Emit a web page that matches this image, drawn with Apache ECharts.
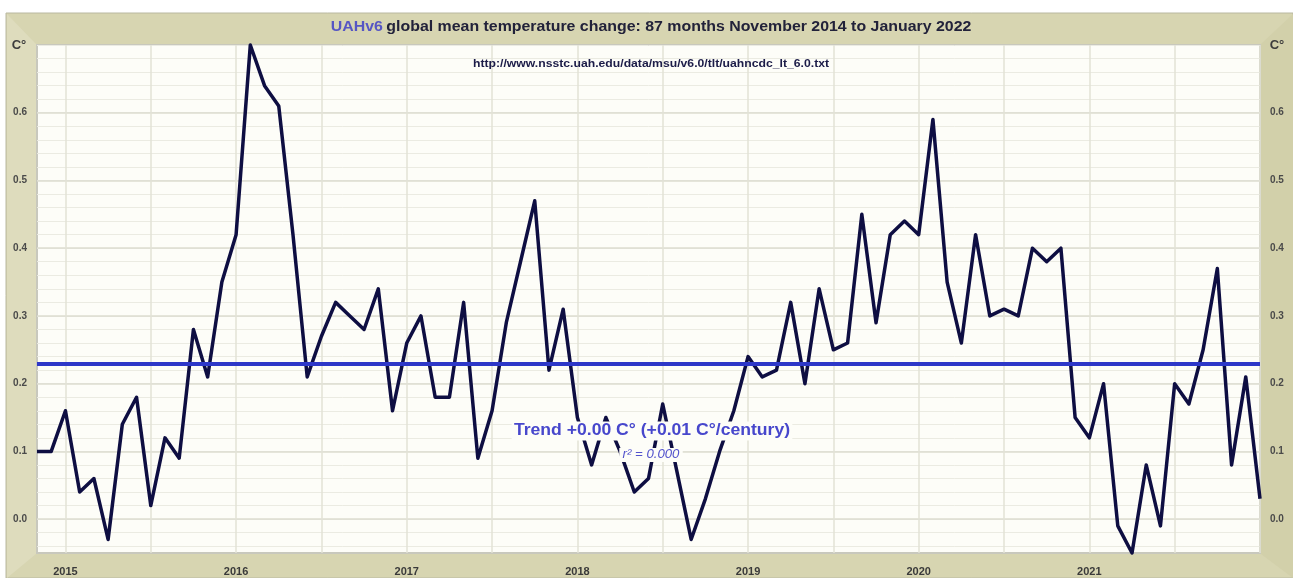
<!DOCTYPE html>
<html>
<head>
<meta charset="utf-8">
<script src="https://cdn.jsdelivr.net/npm/echarts@6/dist/echarts.min.js"></script>
<style>
  html, body { margin: 0; padding: 0; background: #ffffff; }
  #chart { width: 1293px; height: 578px; }
</style>
</head>
<body>
<div id="chart"></div>
<script>
// UAH v6 lower-troposphere global anomalies, one value per month, Nov 2014 .. Jan 2022
const startYear = 2014;
const startMonth = 11;
const anomalies = [
  0.10, 0.10,                                                             // 2014 Nov-Dec
  0.16, 0.04, 0.06, -0.03, 0.14, 0.18, 0.02, 0.12, 0.09, 0.28, 0.21, 0.35, // 2015
  0.42, 0.70, 0.64, 0.61, 0.42, 0.21, 0.27, 0.32, 0.30, 0.28, 0.34, 0.16, // 2016
  0.26, 0.30, 0.18, 0.18, 0.32, 0.09, 0.16, 0.29, 0.38, 0.47, 0.22, 0.31, // 2017
  0.15, 0.08, 0.15, 0.10, 0.04, 0.06, 0.17, 0.07, -0.03, 0.03, 0.10, 0.16, // 2018
  0.24, 0.21, 0.22, 0.32, 0.20, 0.34, 0.25, 0.26, 0.45, 0.29, 0.42, 0.44, // 2019
  0.42, 0.59, 0.35, 0.26, 0.42, 0.30, 0.31, 0.30, 0.40, 0.38, 0.40, 0.15, // 2020
  0.12, 0.20, -0.01, -0.05, 0.08, -0.01, 0.20, 0.17, 0.25, 0.37, 0.08, 0.21, // 2021
  0.03                                                                    // 2022 Jan
];
// least-squares level over the period (slope is ~0)
const trendLevel = 0.232;
const yTickValues = [0.0, 0.1, 0.2, 0.3, 0.4, 0.5, 0.6];
const titleLead = 'UAHv6';
const titleRest = 'global mean temperature change: 87 months November 2014 to January 2022';
const sourceUrl = 'http://www.nsstc.uah.edu/data/msu/v6.0/tlt/uahncdc_lt_6.0.txt';
const trendText = 'Trend +0.00 C\u00b0 (+0.01 C\u00b0/century)';
const r2Text = 'r\u00b2 = 0.000';
const unitText = 'C\u00b0';

// month category labels "YYYY-MM"
const months = anomalies.map((_, i) => {
  const m0 = startMonth - 1 + i;
  const y = startYear + Math.floor(m0 / 12);
  const m = (m0 % 12) + 1;
  return y + '-' + (m < 10 ? '0' + m : m);
});

// faint 0.02-step grid rows inside the y range
const minorRows = [];
for (let k = -2; k <= 35; k++) minorRows.push(+(k * 0.02).toFixed(2));

const FONT = '"Liberation Sans", Arial, sans-serif';
const chart = echarts.init(document.getElementById('chart'), null, { renderer: 'canvas' });

chart.setOption({
  animation: false,
  backgroundColor: '#ffffff',
  textStyle: { fontFamily: FONT },
  grid: {
    left: 37, right: 33, top: 45, bottom: 25,
    show: true,
    backgroundColor: '#fdfdf8',
    borderColor: '#c8c8bd',
    borderWidth: 2
  },
  xAxis: {
    type: 'category',
    data: months,
    boundaryGap: false,
    axisLine: { show: false },
    axisTick: { show: false },
    axisLabel: {
      interval: (idx) => (idx - 2) % 12 === 0 && idx < months.length - 1,
      formatter: (v) => v.slice(0, 4),
      margin: 13,
      fontFamily: FONT,
      fontSize: 11,
      fontWeight: 'bold',
      color: '#3a3a3a'
    },
    splitLine: {
      show: true,
      interval: (idx) => (idx - 2) % 6 === 0,
      lineStyle: { color: '#e2e2d6', width: 1.5 }
    }
  },
  yAxis: [
    {
      type: 'value',
      position: 'left',
      min: -0.05,
      max: 0.70,
      axisLine: { show: false },
      axisTick: { show: false, customValues: minorRows },
      axisLabel: {
        customValues: yTickValues,
        formatter: (v) => v.toFixed(1),
        margin: 10,
        fontFamily: FONT,
        fontSize: 10,
        fontWeight: 'bold',
        color: '#4a4a4a'
      },
      splitLine: { show: true, lineStyle: { color: '#ebebe2', width: 1 } }
    },
    {
      type: 'value',
      position: 'right',
      min: -0.05,
      max: 0.70,
      axisLine: { show: false },
      axisTick: { show: false, customValues: yTickValues },
      axisLabel: {
        customValues: yTickValues,
        formatter: (v) => v.toFixed(1),
        margin: 10,
        fontFamily: FONT,
        fontSize: 10,
        fontWeight: 'bold',
        color: '#4a4a4a'
      },
      splitLine: { show: true, lineStyle: { color: '#dcdcd0', width: 1.5 } }
    }
  ],
  series: [
    {
      name: 'trend',
      type: 'line',
      data: [],
      z: 2,
      markLine: {
        silent: true,
        symbol: ['none', 'none'],
        label: { show: false },
        lineStyle: { color: '#2d37c8', width: 4, type: 'solid' },
        data: [{ yAxis: trendLevel }]
      }
    },
    {
      name: 'anomaly',
      type: 'line',
      data: anomalies,
      symbol: 'none',
      clip: false,
      z: 3,
      lineStyle: { color: '#0e0e42', width: 3.5, join: 'round' }
    }
  ],
  graphic: [
    {
      type: 'rect',
      z: -100,
      shape: { x: 6, y: 13, width: 1287, height: 565 },
      style: { fill: '#d7d5b1', stroke: '#b9b8a0', lineWidth: 1 }
    },
    {
      type: 'polygon',
      z: -99,
      shape: { points: [[7, 14], [36, 44], [36, 554], [7, 578]] },
      style: { fill: '#dedcbd' }
    },
    {
      type: 'polygon',
      z: -99,
      shape: { points: [[1293, 14], [1261, 44], [1261, 554], [1293, 578]] },
      style: { fill: '#d2d0aa' }
    },
    // title: lead word in blue, remainder dark
    {
      type: 'text',
      z: 50,
      x: 651, y: 27,
      scaleX: 1.06,
      style: {
        text: '{a|' + titleLead + '} {b|' + titleRest + '}',
        align: 'center', verticalAlign: 'middle',
        rich: {
          a: { fontFamily: FONT, fontSize: 15, fontWeight: 'bold', fill: '#5656c4', color: '#5656c4' },
          b: { fontFamily: FONT, fontSize: 15, fontWeight: 'bold', fill: '#22223a', color: '#22223a' }
        }
      }
    },
    {
      type: 'text',
      z: 50,
      x: 651, y: 64,
      scaleX: 1.22,
      style: {
        text: sourceUrl, align: 'center', verticalAlign: 'middle',
        fontFamily: FONT, fontSize: 10, fontWeight: 'bold', fill: '#1c1c48'
      }
    },
    {
      type: 'text',
      z: 50,
      x: 19, y: 45,
      style: {
        text: unitText, align: 'center', verticalAlign: 'middle',
        fontFamily: FONT, fontSize: 13, fontWeight: 'bold', fill: '#3c3c3c'
      }
    },
    {
      type: 'text',
      z: 50,
      x: 1277, y: 45,
      style: {
        text: unitText, align: 'center', verticalAlign: 'middle',
        fontFamily: FONT, fontSize: 13, fontWeight: 'bold', fill: '#3c3c3c'
      }
    },
    {
      type: 'text',
      z: 100,
      x: 652, y: 431,
      scaleX: 1.1,
      style: {
        text: trendText, align: 'center', verticalAlign: 'middle',
        fontFamily: FONT, fontSize: 16, fontWeight: 'bold', fill: '#4747cc',
        backgroundColor: '#fdfdf8', padding: [2, 2, 1, 2]
      }
    },
    {
      type: 'text',
      z: 100,
      x: 651, y: 455,
      scaleX: 1.1,
      style: {
        text: r2Text, align: 'center', verticalAlign: 'middle',
        fontFamily: FONT, fontSize: 12, fontStyle: 'italic', fill: '#5252cc',
        backgroundColor: '#fdfdf8', padding: [1, 3, 1, 3]
      }
    }
  ]
});
</script>
</body>
</html>
